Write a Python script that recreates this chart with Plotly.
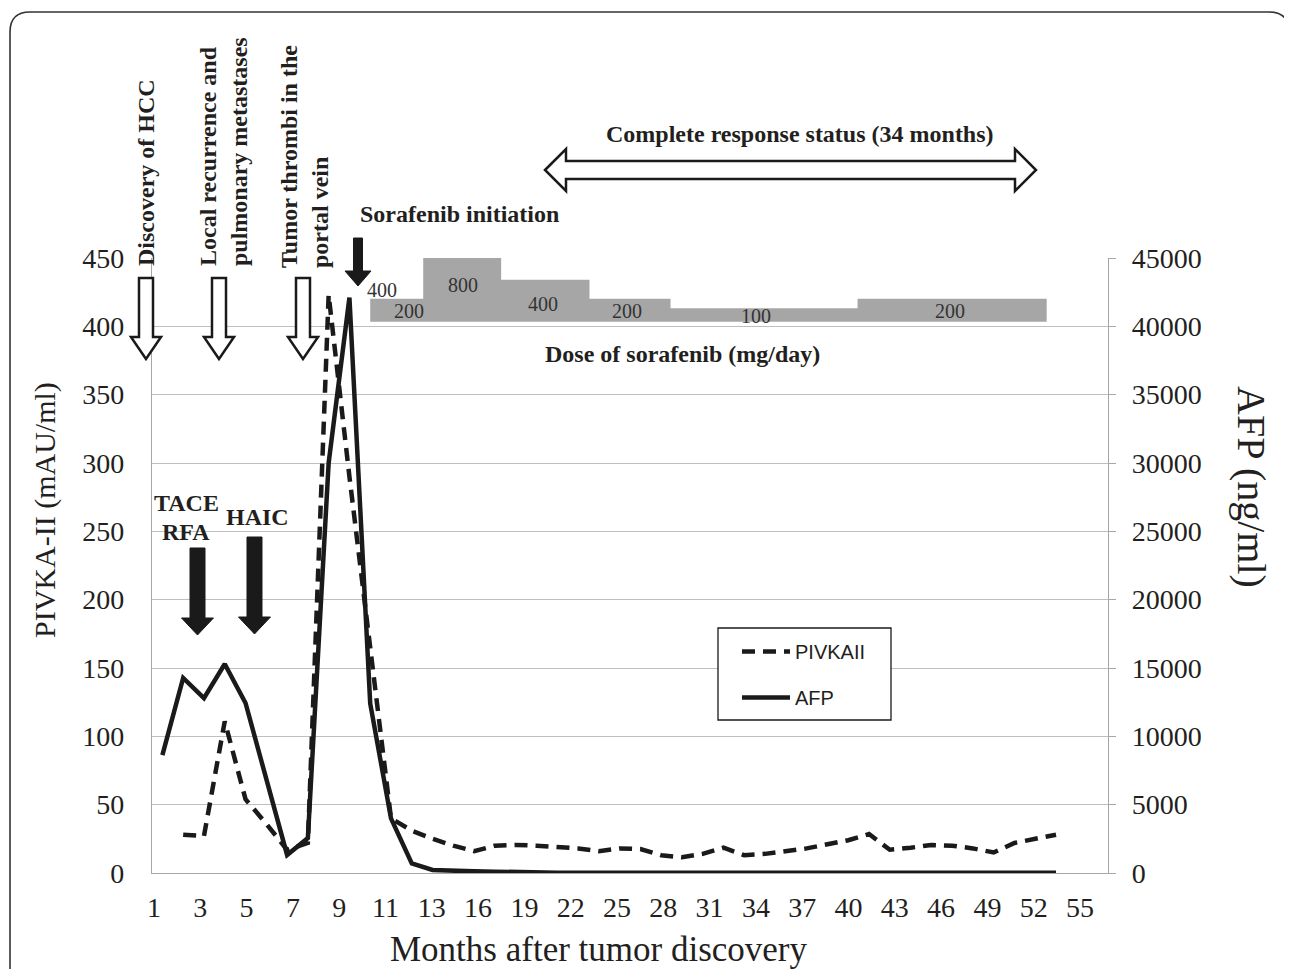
import plotly.graph_objects as go

# ---------------- data ----------------
# sampling slots along the horizontal axis (one slot per measurement)
slots = list(range(44))
# AFP (ng/ml), right axis
afp = [8630, 14270, 12800, 15290, 12440, None, 1320, 2560, 30000, 42100,
       12400, 4000, 700, 220, 150, 120, 100, 50, 20, 15,
       10, 10, 10, 10, 10, 10, 10, 10, 10, 10,
       10, 10, 10, 10, 10, 10, 10, 10, 10, 10,
       10, 10, 10, 10]
# PIVKA-II (mAU/ml), left axis
pivka = [None, 28, 27, 111, 54, 36, 17, 22, 423, 290,
         162, 40, 31, 25, 20, 16, 20, 20.5, 20, 19,
         18, 16, 18, 17.5, 13, 11.5, 14, 18.5, 13, 14,
         16, 18, 21, 24, 28.5, 17, 18.5, 20.5, 20, 18,
         15, 22, 25, 28]
# month tick labels (evenly spaced label slots)
month_labels = ["1", "3", "5", "7", "9", "11", "13", "16", "19", "22", "25",
                "28", "31", "34", "37", "40", "43", "46", "49", "52", "55"]
left_ticks = [0, 50, 100, 150, 200, 250, 300, 350, 400, 450]
right_ticks = [0, 5000, 10000, 15000, 20000, 25000, 30000, 35000, 40000, 45000]
right_tick_text = ["0", "5000", "10000", "15000", "20000", "25000", "30000", "35000",
                   "40000", "45000"]
# sorafenib dose periods (slot boundaries) and dose levels (mg/day)
dose_bounds = [10, 12.55, 16.3, 20.55, 24.45, 33.45, 42.55]
dose_levels = [200, 800, 400, 200, 100, 200]

# ---------------- layout constants (page pixels) ----------------
OFF = 8                      # default page margin of the html body
W, H = 1292 - OFF, 969 - OFF
L, R, T, B = 152, 1108, 258, 873
SERIF = "Liberation Serif"
SANS = "Liberation Sans"
TXT = "#231f20"
LINE = "#1a1a1a"
GRID = "#bfbfbf"
AX = "#a6a6a6"
BAR = "#a6a6a6"
DOSE_BASE = -42


def px(x):
    return (x - L) / (R - L)


def py(y):
    return (B - y) / (B - T)


def poly(points):
    return "M " + " L ".join(f"{px(x):.5f},{py(y):.5f}" for x, y in points) + " Z"


def down_arrow(cx, top, neck, tip, sw, hw):
    return poly([(cx - sw, top), (cx + sw, top), (cx + sw, neck), (cx + hw, neck),
                 (cx, tip), (cx - hw, neck), (cx - sw, neck)])


def double_arrow(x0, x1, cy, hl, hh, sh):
    return poly([(x0, cy), (x0 + hl, cy - hh), (x0 + hl, cy - sh), (x1 - hl, cy - sh),
                 (x1 - hl, cy - hh), (x1, cy), (x1 - hl, cy + hh), (x1 - hl, cy + sh),
                 (x0 + hl, cy + sh), (x0 + hl, cy + hh)])


fig = go.Figure()

# dose of sorafenib (step area on its own hidden axis)
fig.add_trace(go.Scatter(x=[dose_bounds[0], dose_bounds[-1]], y=[DOSE_BASE, DOSE_BASE],
                         yaxis="y3", mode="lines", line=dict(width=0, color=BAR),
                         showlegend=False, hoverinfo="skip"))
fig.add_trace(go.Scatter(x=dose_bounds, y=dose_levels + [dose_levels[-1]], yaxis="y3",
                         mode="lines", line=dict(width=0, color=BAR, shape="hv"),
                         fill="tonexty", fillcolor=BAR, showlegend=False, hoverinfo="skip"))

fig.add_trace(go.Scatter(x=slots, y=pivka, name="PIVKAII", mode="lines", connectgaps=True,
                         line=dict(color=LINE, width=4.5, dash="13px,8px"),
                         legendgroup="a"))
fig.add_trace(go.Scatter(x=slots, y=afp, name="AFP", mode="lines", yaxis="y2",
                         connectgaps=True, line=dict(color=LINE, width=4.5),
                         legendgroup="b"))

# invisible trace to activate the month-label axis
fig.add_trace(go.Scatter(x=[0, len(month_labels) - 1], y=[None, None], xaxis="x2",
                         showlegend=False, hoverinfo="skip"))

shapes = []
# outer rounded frame
r = 20
fx0, fy0, fx1, fy1 = 10, 12, 1289, 990
shapes.append(dict(type="path", xref="paper", yref="paper",
                   path=(f"M {px(fx0)},{py(fy1)} L {px(fx0)},{py(fy0 + r)} "
                         f"Q {px(fx0)},{py(fy0)} {px(fx0 + r)},{py(fy0)} "
                         f"L {px(fx1 - r)},{py(fy0)} Q {px(fx1)},{py(fy0)} {px(fx1)},{py(fy0 + r)} "
                         f"L {px(fx1)},{py(fy1)}"),
                   line=dict(color="#333333", width=1.6)))
# hollow event arrows
for cx in (146, 219, 303):
    shapes.append(dict(type="path", xref="paper", yref="paper",
                       path=down_arrow(cx, 278, 337, 359, 7, 15),
                       line=dict(color=LINE, width=2.5), fillcolor="white", layer="above"))
# solid treatment arrows
shapes.append(dict(type="path", xref="paper", yref="paper",
                   path=down_arrow(358, 238, 271, 286, 4.5, 13),
                   line=dict(color=LINE, width=1), fillcolor=LINE, layer="above"))
shapes.append(dict(type="path", xref="paper", yref="paper",
                   path=down_arrow(197.5, 548, 618, 635, 7.5, 16),
                   line=dict(color=LINE, width=1), fillcolor=LINE, layer="above"))
shapes.append(dict(type="path", xref="paper", yref="paper",
                   path=down_arrow(254.5, 537, 617, 634, 7.5, 16),
                   line=dict(color=LINE, width=1), fillcolor=LINE, layer="above"))
# complete response double arrow
shapes.append(dict(type="path", xref="paper", yref="paper",
                   path=double_arrow(545, 1036, 170, 21, 21, 9),
                   line=dict(color=LINE, width=2.5), fillcolor="white"))
# legend frame
shapes.append(dict(type="rect", xref="paper", yref="paper",
                   x0=px(718), x1=px(891), y0=py(628), y1=py(720),
                   line=dict(color=LINE, width=1.3), fillcolor="white", layer="above"))

ann = []


def add_text(text, x, y, size, bold=False, angle=0, align="center", family=SERIF, color=TXT):
    ann.append(dict(text=text, x=px(x), y=py(y), xref="paper", yref="paper",
                    xanchor="center", yanchor="middle", showarrow=False,
                    textangle=angle, align=align,
                    font=dict(family=family, size=size, color=color,
                              weight="bold" if bold else "normal")))


add_text("Discovery of HCC", 146, 173, 24, bold=True, angle=-90)
add_text("Local recurrence and<br>pulmonary metastases", 223, 152, 24, bold=True, angle=-90,
         align="left")
add_text("Tumor thrombi in the<br>portal vein", 305, 157, 24, bold=True, angle=-90, align="left")
add_text("Sorafenib initiation", 459, 214, 24, bold=True)
add_text("Complete response status (34 months)", 800, 134, 24, bold=True)
add_text("Dose of sorafenib (mg/day)", 682, 354, 24, bold=True)
add_text("TACE", 186, 503, 24, bold=True)
add_text("RFA", 186, 532, 24, bold=True)
add_text("HAIC", 257, 517, 24, bold=True)
for t, x, y in [("400", 382, 290), ("200", 409, 311), ("800", 463, 285), ("400", 543, 304),
                ("200", 627, 311), ("100", 756, 316), ("200", 950, 311)]:
    add_text(t, x, y, 20, color="#333333")
add_text("PIVKA-II (mAU/ml)", 45, 510, 30, angle=-90)
add_text("AFP (ng/ml)", 1252, 487, 40, angle=90)
add_text("Months after tumor discovery", 598, 949, 35)

fig.update_layout(
    width=W, height=H,
    margin=dict(l=L - OFF, r=(W + OFF) - R, t=T - OFF, b=(H + OFF) - B, autoexpand=False),
    paper_bgcolor="white", plot_bgcolor="white",
    font=dict(family=SERIF, color=TXT),
    showlegend=True,
    legend=dict(x=px(737), y=py(632), xanchor="left", yanchor="top",
                bgcolor="rgba(0,0,0,0)", borderwidth=0, itemwidth=48,
                traceorder="grouped", tracegroupgap=17,
                font=dict(family=SANS, size=20, color=TXT)),
    xaxis=dict(range=[-0.5, 45.5], showgrid=False, zeroline=False, showticklabels=False,
               ticks="", showline=True, linecolor=AX, linewidth=1.2, fixedrange=True),
    xaxis2=dict(overlaying="x", side="bottom", anchor="y", range=[-0.043, 20.605],
                tickmode="array", tickvals=list(range(len(month_labels))),
                ticktext=month_labels, showgrid=False, zeroline=False, showline=False,
                ticks="", ticklabelstandoff=15,
                tickfont=dict(family=SERIF, size=28, color=TXT)),
    yaxis=dict(range=[0, 450], tickmode="array", tickvals=left_ticks, showgrid=True,
               gridcolor=GRID, gridwidth=1.2, zeroline=False, showline=True, linecolor=AX,
               linewidth=1.2, ticks="", ticklabelstandoff=21,
               tickfont=dict(family=SERIF, size=28, color=TXT)),
    yaxis2=dict(range=[0, 45000], overlaying="y", side="right", tickmode="array",
                tickvals=right_ticks, ticktext=right_tick_text, showgrid=False,
                zeroline=False, showline=True,
                linecolor=AX, linewidth=1.2, ticks="outside", ticklen=7, tickcolor=AX,
                ticklabelstandoff=10, tickfont=dict(family=SERIF, size=28, color=TXT)),
    yaxis3=dict(range=[-5845, 629], overlaying="y", visible=False),
    shapes=shapes,
    annotations=ann,
)

fig.write_html("out.html")
